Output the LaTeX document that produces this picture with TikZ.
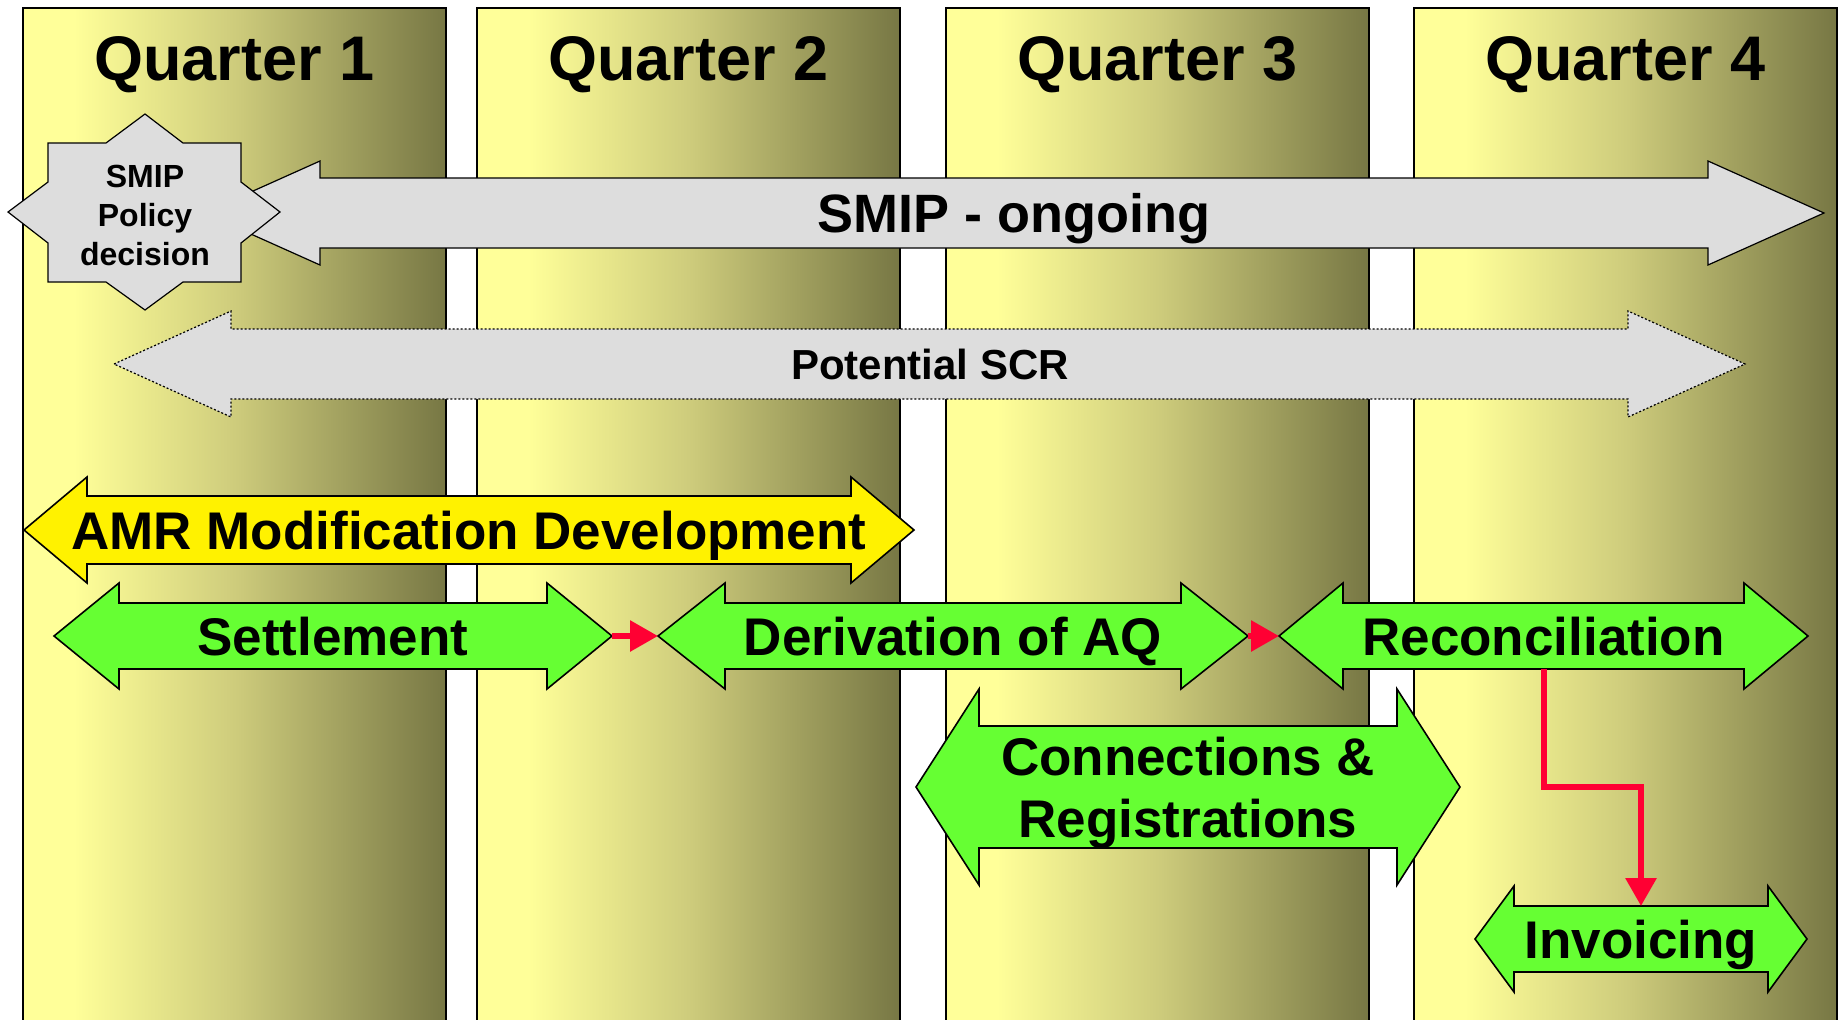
\documentclass[tikz,border=0pt]{standalone}
\usepackage{fontspec}
\setmainfont{Liberation Sans}
\usetikzlibrary{arrows.meta}

\definecolor{qlight}{RGB}{255,255,153}
\definecolor{qmid}{RGB}{206,204,124}
\definecolor{qdark}{RGB}{119,119,68}
\definecolor{agreen}{RGB}{102,255,51}
\definecolor{agrey}{RGB}{221,221,221}
\definecolor{ared}{RGB}{255,0,51}
\pgfdeclarehorizontalshading{quarter}{100bp}{color(0bp)=(qlight); color(31bp)=(qlight); color(50bp)=(qmid); color(75bp)=(qdark); color(100bp)=(qdark)}

% block arrow: name, style, left tip, right tip, centre y, head half, shaft half, head length
\newcommand{\blockarrow}[8]{%
  \path[#2] (#3,#5) -- (#3+#8,#5-#6) -- (#3+#8,#5-#7) -- (#4-#8,#5-#7) -- (#4-#8,#5-#6) -- (#4,#5)
    -- (#4-#8,#5+#6) -- (#4-#8,#5+#7) -- (#3+#8,#5+#7) -- (#3+#8,#5+#6) -- cycle;
  \coordinate (#1-l) at (#3,#5);
  \coordinate (#1-r) at (#4,#5);
  \coordinate (#1-n) at ({(#3+#4)/2},#5-#7);
  \coordinate (#1-s) at ({(#3+#4)/2},#5+#7);
}

\begin{document}
\begin{tikzpicture}[x=0.5pt,y=-0.5pt,
  grey/.style={fill=agrey,draw=black,line width=0.6pt},
  green/.style={fill=agreen,draw=black,line width=0.8pt},
  link/.style={draw=ared,line width=3pt,-{Triangle[length=14pt,width=15pt]}},
  qlbl/.style={font=\fontsize{31.5}{36}\selectfont\bfseries,inner sep=0pt,anchor=base},
  albl/.style={font=\fontsize{26.5}{31}\selectfont\bfseries,inner sep=0pt,anchor=base}]
  \fill[white] (0,0) rectangle (1843,1019);
  \useasboundingbox (0,0) rectangle (1843,1019);
  \clip (0,0) rectangle (1843,1019);

  % quarters
  \foreach \x/\n in {23/1,477/2,946/3,1414/4}{
    \shadedraw[shading=quarter,draw=black,line width=0.6pt] (\x,8) rectangle (\x+423,1040);
    \node[qlbl] (q\n) at (\x+211.5,80) {Quarter \n};
  }

  % SMIP
  \blockarrow{smip}{grey}{204}{1824}{213}{52}{35}{116}
  \node[albl,font=\fontsize{27}{31}\selectfont\bfseries] (ongoing) at (1014,232) {SMIP - ongoing};
  \path[grey] (145,114) -- (183,143) -- (241,143) -- (241,182) -- (280,212) -- (241,243)
    -- (241,282) -- (183,282) -- (145,310) -- (106,282) -- (48,282) -- (48,243)
    -- (8,212) -- (48,182) -- (48,143) -- (106,143) -- cycle;
  \node[font=\fontsize{16}{19.5}\selectfont\bfseries,align=center,inner sep=0pt] (policy) at (145,215) {SMIP\\Policy\\decision};

  \blockarrow{scr}{grey,dash pattern=on 1pt off 1pt}{114}{1745}{364}{53}{35}{117}
  \node[albl,font=\fontsize{21}{25}\selectfont\bfseries] (potential) at (930,379) {Potential SCR};

  % work streams
  \blockarrow{amr}{green,fill=yellow}{24}{914}{530}{53}{34}{63}
  \node[albl] (amrdev) at (469,549) {AMR Modification Development};

  \blockarrow{settle}{green}{54}{612}{636}{53}{33}{65}
  \node[albl] (settlement) at (333,655) {Settlement};
  \blockarrow{deriv}{green}{658}{1248}{636}{53}{33}{67}
  \node[albl] (derivation) at (953,655) {Derivation of AQ};
  \blockarrow{recon}{green}{1279}{1808}{636}{53}{33}{64}
  \node[albl] (reconciliation) at (1543.5,655) {Reconciliation};
  \blockarrow{conn}{green}{916}{1460}{787}{98}{61}{63}
  \node[font=\fontsize{26.5}{31}\selectfont\bfseries,align=center,inner sep=0pt] (connections) at (1188,793) {Connections \&\\Registrations};
  \blockarrow{invoice}{green}{1475}{1807}{939}{53}{33}{39}
  \node[albl] (invoicing) at (1641,958) {Invoicing};

  \draw[link] (settle-r) -- (deriv-l);
  \draw[link] (deriv-r) -- (recon-l);
  \draw[link] (recon-s) -- ++(0,118) -| (invoice-n);
\end{tikzpicture}
\end{document}
